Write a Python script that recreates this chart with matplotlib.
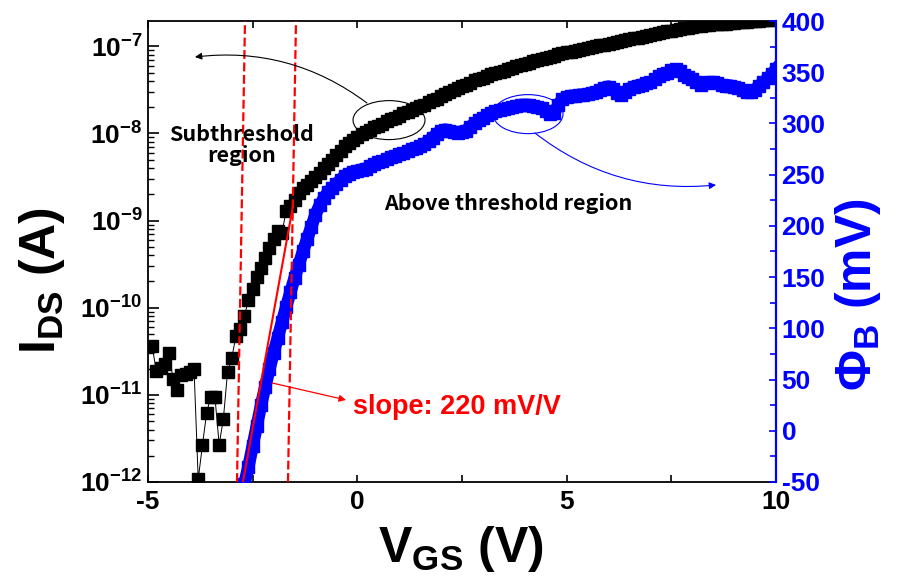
import numpy as np
import matplotlib
matplotlib.use('Agg')
import matplotlib.pyplot as plt
from matplotlib import ticker
from matplotlib.patches import Ellipse

plt.rcParams['font.family'] = ['Liberation Sans', 'DejaVu Sans']
plt.rcParams['font.weight'] = 'bold'
plt.rcParams['mathtext.fontset'] = 'custom'
plt.rcParams['mathtext.rm'] = 'Liberation Sans:bold'
plt.rcParams['mathtext.it'] = 'Liberation Sans:bold'
plt.rcParams['mathtext.bf'] = 'Liberation Sans:bold'
plt.rcParams['mathtext.default'] = 'rm'
plt.rcParams['axes.unicode_minus'] = False

# I_DS sweep, log10(A), VGS from -4.9 V to 10 V in 0.1 V steps
vgs_ids = np.round(np.arange(-4.9, 10.01, 0.1), 1)
log_ids = [
    -10.44, -10.73, -10.69, -10.65, -10.52, -10.82, -10.95, -10.77, -10.76, -10.74,
    -10.70, -11.97, -11.58, -11.21, -11.02, -11.03, -11.57, -11.28, -10.74, -10.58,
    -10.33, -10.25, -10.10, -9.91, -9.78, -9.65, -9.54, -9.43, -9.32, -9.21,
    -9.12, -9.14, -8.89, -8.83, -8.76, -8.68, -8.63, -8.59, -8.55, -8.50,
    -8.45, -8.40, -8.35, -8.30, -8.25, -8.20, -8.15, -8.11, -8.07, -8.04,
    -8.01, -7.98, -7.96, -7.93, -7.91, -7.89, -7.86, -7.84, -7.82, -7.80,
    -7.77, -7.75, -7.73, -7.71, -7.69, -7.67, -7.64, -7.62, -7.60, -7.57,
    -7.55, -7.53, -7.50, -7.48, -7.46, -7.44, -7.42, -7.39, -7.37, -7.36,
    -7.34, -7.32, -7.31, -7.29, -7.28, -7.26, -7.25, -7.23, -7.22, -7.20,
    -7.19, -7.17, -7.16, -7.15, -7.13, -7.12, -7.11, -7.09, -7.08, -7.07,
    -7.06, -7.05, -7.04, -7.03, -7.02, -7.01, -7.00, -6.99, -6.98, -6.97,
    -6.96, -6.95, -6.94, -6.93, -6.92, -6.91, -6.90, -6.89, -6.88, -6.87,
    -6.86, -6.85, -6.84, -6.83, -6.82, -6.81, -6.80, -6.79, -6.79, -6.78,
    -6.77, -6.77, -6.76, -6.76, -6.75, -6.75, -6.74, -6.74, -6.73, -6.73,
    -6.72, -6.72, -6.72, -6.71, -6.71, -6.71, -6.70, -6.70, -6.70, -6.69,
]

# barrier height Phi_B (mV), VGS from -2.7 V to 10 V in 0.1 V steps
vgs_phi = np.round(np.arange(-2.7, 10.01, 0.1), 1)
phi_b = [
    -52, -35, -15, 5, 25, 43, 60, 76, 91, 106,
    121, 135, 149, 162, 175, 187, 199, 211, 220, 227,
    233, 237, 241, 245, 249, 251, 253, 254, 255, 256,
    258, 260, 262, 263, 265, 267, 268, 270, 271, 273,
    275, 276, 278, 280, 283, 286, 290, 293, 294, 293,
    292, 291, 292, 293, 297, 300, 303, 305, 308, 310,
    312, 313, 314, 315, 316, 317, 318, 318, 318, 317,
    316, 315, 312, 309, 310, 318, 324, 326, 327, 327,
    328, 328, 329, 330, 331, 333, 335, 336, 334, 330,
    328, 331, 334, 336, 337, 338, 339, 340, 343, 346,
    348, 349, 352, 353, 351, 347, 345, 343, 340, 338,
    339, 340, 340, 339, 338, 337, 337, 336, 335, 333,
    331, 331, 333, 337, 340, 344, 348, 353,
]

# subthreshold guide lines (VGS at bottom / top of plot)
guide_left = [-2.874, -2.683]
guide_right = [-1.656, -1.465]
slope_vgs = [-2.731, -1.544]
slope_phi = [-50, 218]

fig = plt.figure(figsize=(8.99, 5.85), dpi=100)
ax = fig.add_axes([0.1646, 0.1761, 0.6986, 0.7880])
ax2 = ax.twinx()

ax.set_yscale('log')
ax.plot(vgs_ids, 10.0 ** np.array(log_ids), '-s', color='black', ms=8, lw=0.7)
ax.set_xlim(-5, 10)
ax.set_ylim(1e-12, 10 ** -6.71)

ax2.plot(vgs_phi, phi_b, '-s', color='blue', ms=9, lw=9)
ax2.set_ylim(-50, 400)

ax2.plot(guide_left, [-50, 400], color='red', ls=(0, (4, 1.6)), lw=1.6)
ax2.plot(guide_right, [-50, 400], color='red', ls=(0, (4, 1.6)), lw=1.6)
ax2.plot(slope_vgs, slope_phi, color='red', lw=1.5)

# ticks
ax.xaxis.set_major_locator(ticker.FixedLocator([-5, 0, 5, 10]))
ax.xaxis.set_minor_locator(ticker.FixedLocator([-2.5, 2.5, 7.5]))
ax.tick_params(axis='x', which='both', direction='in', top=True, length=5,
               width=1.2, labelsize=19, pad=6)
ax.yaxis.set_major_locator(ticker.LogLocator(base=10, numticks=12))
ax.yaxis.set_minor_locator(ticker.LogLocator(base=10, subs=np.arange(2, 10), numticks=12))
ax.yaxis.set_major_formatter(ticker.FuncFormatter(
    lambda y, p: r'$10^{%d}$' % int(round(np.log10(y)))))
ax.yaxis.set_minor_formatter(ticker.NullFormatter())
ax.tick_params(axis='y', which='major', direction='in', length=8, width=1.2,
               labelsize=19, pad=4, right=False)
ax.tick_params(axis='y', which='minor', direction='in', length=4.5, width=1.0, right=False)

ax2.yaxis.set_major_locator(ticker.MultipleLocator(50))
ax2.yaxis.set_minor_locator(ticker.MultipleLocator(25))
ax2.tick_params(axis='y', which='major', direction='in', length=5, width=1.2,
                colors='blue', labelsize=19, pad=4)
ax2.tick_params(axis='y', which='minor', direction='in', length=4, width=1.2, colors='blue')

for s in ['left', 'top', 'bottom']:
    ax.spines[s].set_linewidth(1.3)
    ax2.spines[s].set_visible(False)
ax.spines['right'].set_visible(False)
ax2.spines['right'].set_color('blue')
ax2.spines['right'].set_linewidth(1.6)

# axis labels
fig.text(0.5128, 0.039, r'$\mathrm{V_{GS}}$ (V)', fontsize=36, ha='center', va='baseline')
fig.text(0.061, 0.521, r'$\mathrm{I_{DS}}$ (A)', fontsize=36, ha='center', va='baseline',
         rotation=90, rotation_mode='anchor')
fig.text(0.969, 0.496, r'$\Phi_\mathrm{B}$ (mV)', fontsize=36, ha='center', va='baseline',
         rotation=90, rotation_mode='anchor', color='blue')

# annotations
kfont = ['Noto Sans CJK KR', 'DejaVu Sans']
ax2.text(0.1497, 0.731, 'Subthreshold\nregion', transform=ax2.transAxes, ha='center',
         va='center', fontsize=15.5, family=kfont, weight='bold', linespacing=0.95)
ax2.text(0.5732, 0.605, 'Above threshold region', transform=ax2.transAxes, ha='center',
         va='center', fontsize=15.5, family=kfont, weight='bold')
ax2.text(0.4925, 0.1627, 'slope: 220 mV/V', transform=ax2.transAxes, ha='center',
         va='center', fontsize=19.5, color='red', weight='bold')

ax2.add_patch(Ellipse((0.3838, 0.785), 0.1146, 0.0846, transform=ax2.transAxes,
                      fill=False, ec='black', lw=0.8))
ax2.add_patch(Ellipse((0.6051, 0.798), 0.1115, 0.0846, transform=ax2.transAxes,
                      fill=False, ec='blue', lw=0.8))
ax2.annotate('', xy=(0.0748, 0.9219), xytext=(0.3487, 0.8221),
             xycoords='axes fraction', textcoords='axes fraction',
             arrowprops=dict(arrowstyle='-|>', color='black', lw=0.8,
                             connectionstyle='arc3,rad=0.2', mutation_scale=10,
                             shrinkA=0, shrinkB=0))
ax2.annotate('', xy=(0.9045, 0.6443), xytext=(0.6162, 0.7570),
             xycoords='axes fraction', textcoords='axes fraction',
             arrowprops=dict(arrowstyle='-|>', color='blue', lw=0.8,
                             connectionstyle='arc3,rad=0.2', mutation_scale=10,
                             shrinkA=0, shrinkB=0))
ax2.annotate('', xy=(0.3153, 0.1779), xytext=(0.1975, 0.2148),
             xycoords='axes fraction', textcoords='axes fraction',
             arrowprops=dict(arrowstyle='-|>', color='red', lw=0.9,
                             mutation_scale=10, shrinkA=0, shrinkB=0))

fig.savefig('out.png', dpi=100)
